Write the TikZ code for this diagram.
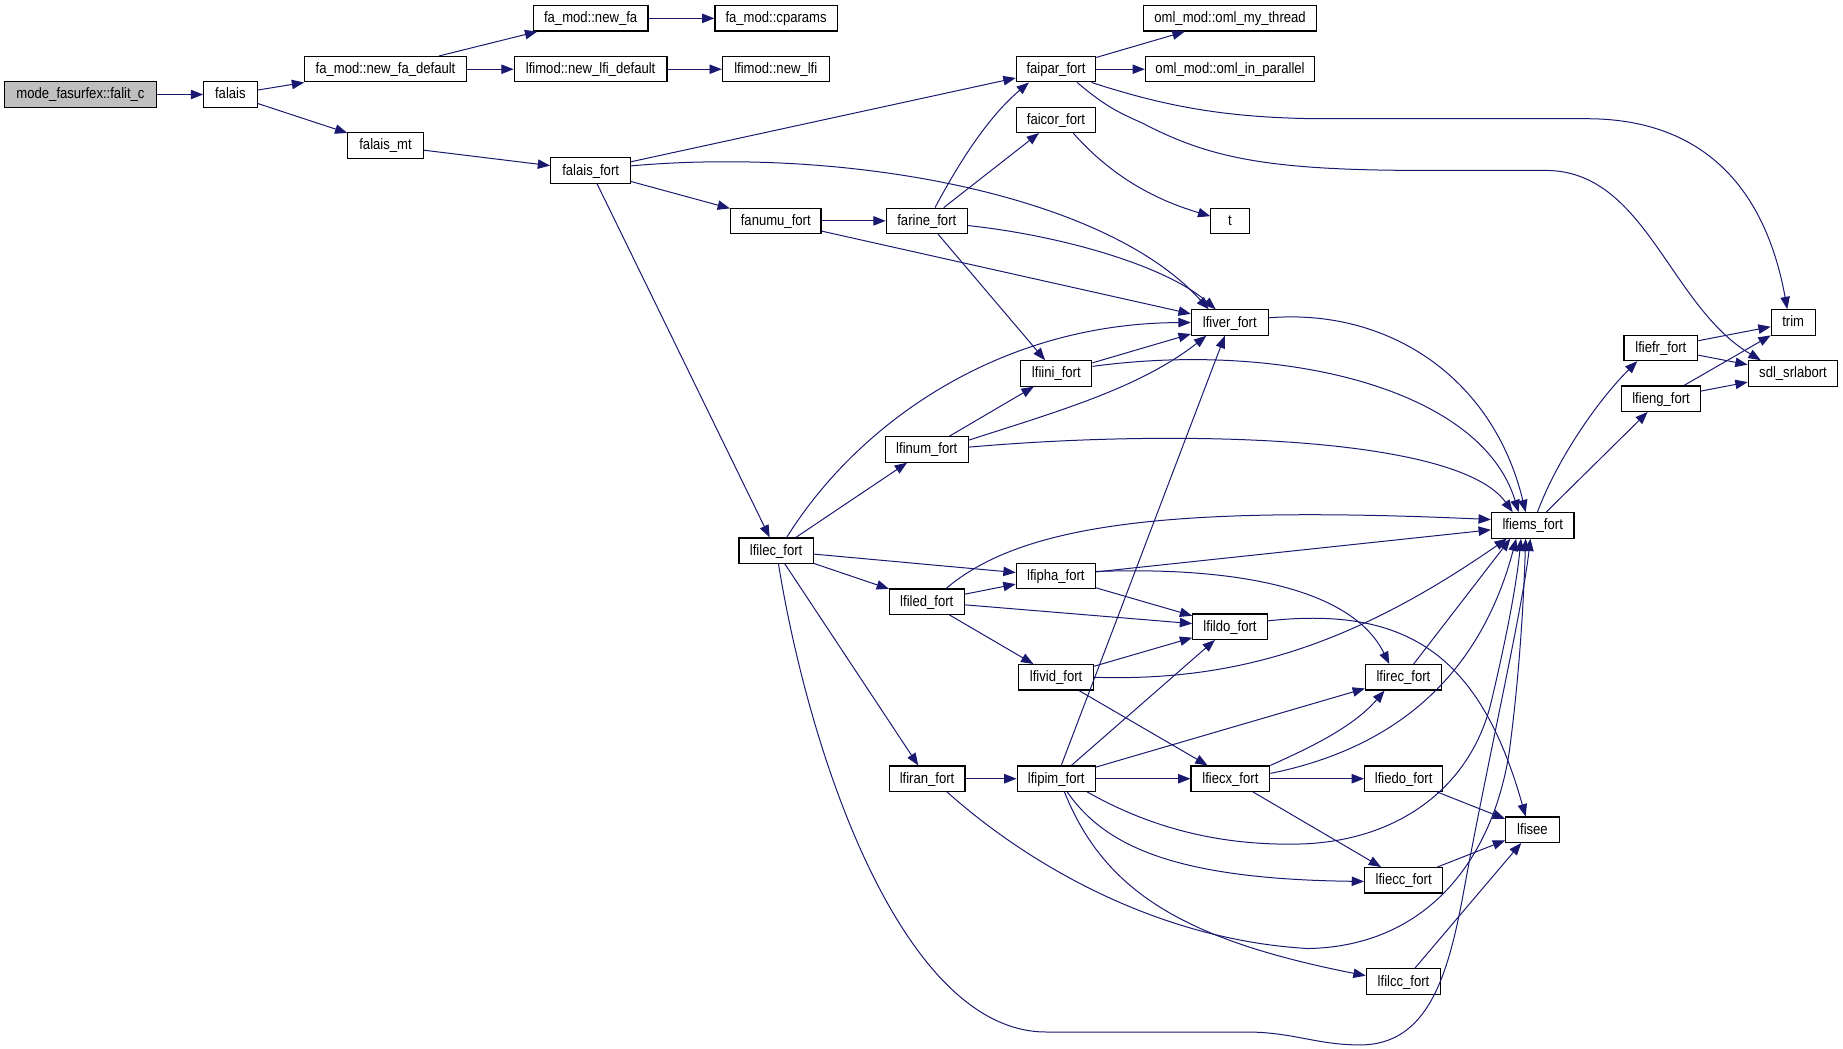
\documentclass[tikz,border=0pt]{standalone}
\usepackage{fontspec}
\setmainfont{Liberation Sans}[FakeStretch=0.87]
\usetikzlibrary{arrows.meta}
\definecolor{edgec}{HTML}{191970}
\definecolor{rootfill}{HTML}{BFBFBF}
\tikzset{
  box/.style={draw=black, line width=0.95pt, fill=white, minimum height=21.6pt,
    inner sep=0pt, font=\fontsize{12.8}{14}\selectfont, text height=9.5pt, text depth=1.9pt},
  rootbox/.style={box, fill=rootfill},
  edge/.style={draw=edgec, line width=0.85pt, -{Triangle[length=10.5pt,width=8pt]}},
}
\begin{document}
\begin{tikzpicture}[x=1pt,y=-1pt]
\useasboundingbox (0,0) rectangle (1568,892.4);
% nodes
\node[rootbox, minimum width=129pt] (mode) at (68.5,80.4) {mode\_fasurfex::falit\_c};
\node[box, minimum width=45.4pt] (falais) at (196,80.4) {falais};
\node[box, minimum width=138pt] (nfd) at (328,58.9) {fa\_mod::new\_fa\_default};
\node[box, minimum width=64pt] (falaismt) at (328,123.8) {falais\_mt};
\node[box, minimum width=97.7pt] (newfa) at (502.5,15.6) {fa\_mod::new\_fa};
\node[box, minimum width=130pt] (nld) at (502.5,58.9) {lfimod::new\_lfi\_default};
\node[box, minimum width=68pt] (falaisfort) at (502.5,145.1) {falais\_fort};
\node[box, minimum width=104pt] (cparams) at (660.3,15.6) {fa\_mod::cparams};
\node[box, minimum width=90.8pt] (newlfi) at (660,58.9) {lfimod::new\_lfi};
\node[box, minimum width=77pt] (fanumu) at (660,187.9) {fanumu\_fort};
\node[box, minimum width=63.2pt] (lfilec) at (660.3,468.5) {lfilec\_fort};
\node[box, minimum width=69pt] (farine) at (788.5,187.9) {farine\_fort};
\node[box, minimum width=70.8pt] (lfinum) at (788.5,382.4) {lfinum\_fort};
\node[box, minimum width=63.4pt] (lfiled) at (788.5,511.9) {lfiled\_fort};
\node[box, minimum width=64.5pt] (lfiran) at (788.7,662.5) {lfiran\_fort};
\node[box, minimum width=67.6pt] (faipar) at (898.4,58.9) {faipar\_fort};
\node[box, minimum width=67.6pt] (faicor) at (898.4,101.9) {faicor\_fort};
\node[box, minimum width=60.5pt] (lfiini) at (898.7,317.7) {lfiini\_fort};
\node[box, minimum width=67.4pt] (lfipha) at (898.3,490.2) {lfipha\_fort};
\node[box, minimum width=63.5pt] (lfivid) at (898.5,576.2) {lfivid\_fort};
\node[box, minimum width=66.5pt] (lfipim) at (898.6,662.5) {lfipim\_fort};
\node[box, minimum width=147pt] (omlthread) at (1046.5,15.6) {oml\_mod::oml\_my\_thread};
\node[box, minimum width=144pt] (omlpar) at (1046.5,58.9) {oml\_mod::oml\_in\_parallel};
\node[box, minimum width=32.6pt] (tnode) at (1046.5,187.9) {t};
\node[box, minimum width=65.4pt] (lfiver) at (1046.3,274.4) {lfiver\_fort};
\node[box, minimum width=63.5pt] (lfildo) at (1046.5,533.2) {lfildo\_fort};
\node[box, minimum width=67pt] (lfiecx) at (1046.8,662.5) {lfiecx\_fort};
\node[box, minimum width=64.5pt] (lfirec) at (1194,576.2) {lfirec\_fort};
\node[box, minimum width=66.4pt] (lfiedo) at (1194.2,662.5) {lfiedo\_fort};
\node[box, minimum width=66.4pt] (lfiecc) at (1194.2,748.9) {lfiecc\_fort};
\node[box, minimum width=63.4pt] (lfilcc) at (1194.1,835.1) {lfilcc\_fort};
\node[box, minimum width=70.2pt] (lfiems) at (1304,447) {lfiems\_fort};
\node[box, minimum width=45.6pt] (lfisee) at (1303.8,705.9) {lfisee};
\node[box, minimum width=62.7pt] (lfiefr) at (1413,296) {lfiefr\_fort};
\node[box, minimum width=66.9pt] (lfieng) at (1413.2,339.2) {lfieng\_fort};
\node[box, minimum width=37.3pt] (trim) at (1525.6,274.3) {trim};
\node[box, minimum width=76.3pt] (sdl) at (1525.5,317.7) {sdl\_srlabort};
% straight edges
\draw[edge] (mode) -- (falais);
\draw[edge] (falais) -- (nfd);
\draw[edge] (falais) -- (falaismt);
\draw[edge] (nfd) -- (newfa);
\draw[edge] (nfd) -- (nld);
\draw[edge] (newfa) -- (cparams);
\draw[edge] (nld) -- (newlfi);
\draw[edge] (falaismt) -- (falaisfort);
\draw[edge] (falaisfort) -- (faipar);
\draw[edge] (falaisfort) -- (fanumu);
\draw[edge] (falaisfort) -- (lfilec);
\draw[edge] (fanumu) -- (farine);
\draw[edge] (fanumu) -- (lfiver);
\draw[edge] (farine) -- (faicor);
\draw[edge] (farine) -- (lfiini);
\draw[edge] (faipar) -- (omlthread);
\draw[edge] (faipar) -- (omlpar);
\draw[edge] (lfiini) -- (lfiver);
\draw[edge] (lfinum) -- (lfiini);
\draw[edge] (lfilec) -- (lfinum);
\draw[edge] (lfilec) -- (lfipha);
\draw[edge] (lfilec) -- (lfiled);
\draw[edge] (lfilec) -- (lfiran);
\draw[edge] (lfiled) -- (lfipha);
\draw[edge] (lfiled) -- (lfildo);
\draw[edge] (lfiled) -- (lfivid);
\draw[edge] (lfipha) -- (lfiems);
\draw[edge] (lfipha) -- (lfildo);
\draw[edge] (lfivid) -- (lfildo);
\draw[edge] (lfivid) -- (lfiecx);
\draw[edge] (lfiran) -- (lfipim);
\draw[edge] (lfipim) -- (lfiver);
\draw[edge] (lfipim) -- (lfildo);
\draw[edge] (lfipim) -- (lfirec);
\draw[edge] (lfipim) -- (lfiecx);
\draw[edge] (lfiecx) -- (lfiedo);
\draw[edge] (lfiecx) -- (lfiecc);
\draw[edge] (lfirec) -- ([xshift=-19pt]lfiems.south);
\draw[edge] (lfiedo) -- (lfisee);
\draw[edge] (lfiecc) -- (lfisee);
\draw[edge] (lfilcc) -- (lfisee);
\draw[edge] (lfiems) -- (lfieng);
\draw[edge] (lfiefr) -- (trim);
\draw[edge] (lfiefr) -- (sdl);
\draw[edge] (lfieng) -- (trim);
\draw[edge] (lfieng) -- (sdl);
% curved edges
\draw[edge] ([yshift=4pt]falaisfort.east) .. controls (720,125) and (940,165) .. ([xshift=-18pt]lfiver.north);
\draw[edge] ([yshift=-4pt]farine.east) .. controls (900,200) and (990,225) .. ([xshift=-12pt]lfiver.north);
\draw[edge] ([xshift=7pt]farine.north) .. controls (815,140) and (840,100) .. ([xshift=-23pt]faipar.south);
\draw[edge] ([xshift=-4pt]faipar.south east) .. controls (990,90) and (1040,100) .. (1120,101) -- (1350,101) .. controls (1440,101) and (1500,150) .. ([xshift=-5pt]trim.north);
\draw[edge] ([xshift=18pt]faipar.south) .. controls (940,90) and (950,95) .. (972.5,105) .. controls (1030,135) and (1080,145) .. (1213,145) -- (1315,145) .. controls (1400,145) and (1420,260) .. ([xshift=-27.5pt]sdl.north);
\draw[edge] ([xshift=14.6pt]faicor.south) .. controls (950,155) and (990,172) .. ([yshift=4pt]tnode.west);
\draw[edge] ([yshift=4pt]lfiver.east) .. controls (1180,262) and (1270,320) .. ([xshift=-6pt]lfiems.north);
\draw[edge] ([yshift=6pt]lfiini.east) .. controls (1090,290) and (1260,330) .. ([xshift=-12pt]lfiems.north);
\draw[edge] ([yshift=2pt]lfinum.east) .. controls (1000,365) and (1240,370) .. ([xshift=-17pt]lfiems.north);
\draw[edge] ([yshift=8pt]lfinum.east) .. controls (900,350) and (970,330) .. ([xshift=-20pt]lfiver.south);
\draw[edge] ([xshift=9pt]lfilec.north) .. controls (730,360) and (850,275) .. (lfiver.west);
\draw[edge] ([xshift=2pt]lfilec.south) .. controls (690,650) and (770,878) .. (890,878) -- (1060,878) .. controls (1100,878) and (1120,889) .. (1157,889) .. controls (1215,889) and (1232,830) .. (1245,760) .. controls (1265,650) and (1295,520) .. ([xshift=-2pt]lfiems.south);
\draw[edge] ([xshift=16.5pt]lfiled.north) .. controls (870,445) and (1000,430) .. ([yshift=5pt]lfiems.west);
\draw[edge] ([yshift=4pt]lfipha.east) .. controls (1050,482) and (1150,500) .. ([xshift=-12pt]lfirec.north);
\draw[edge] ([yshift=5pt]lfildo.east) .. controls (1200,515) and (1260,560) .. ([xshift=-5.8pt]lfisee.north);
\draw[edge] (lfivid.east) .. controls (1050,580) and (1150,550) .. ([xshift=-22pt]lfiems.south);
\draw[edge] ([xshift=17pt]lfiran.south) .. controls (880,740) and (990,800) .. (1113,807) .. controls (1215,805) and (1270,730) .. (1284,640) .. controls (1292,580) and (1296,520) .. ([xshift=-6pt]lfiems.south);
\draw[edge] ([xshift=26.4pt]lfipim.south) .. controls (980,705) and (1040,720) .. (1108,718) .. controls (1190,715) and (1250,670) .. (1268,600) .. controls (1280,550) and (1290,500) .. ([xshift=-10pt]lfiems.south);
\draw[edge] ([xshift=9.4pt]lfipim.south) .. controls (940,720) and (1000,748) .. ([yshift=-1pt]lfiecc.west);
\draw[edge] ([xshift=7pt]lfipim.south) .. controls (940,760) and (1010,800) .. ([yshift=5pt]lfilcc.west);
\draw[edge] ([yshift=4.5pt]lfiecx.east) .. controls (1170,640) and (1255,590) .. ([xshift=-14pt]lfiems.south);
\draw[edge] (lfiecx.north east) .. controls (1110,638) and (1150,620) .. ([xshift=-16pt]lfirec.south);
\draw[edge] ([xshift=4pt]lfiems.north) .. controls (1325,390) and (1360,340) .. ([xshift=-20pt]lfiefr.south);
\end{tikzpicture}
\end{document}
